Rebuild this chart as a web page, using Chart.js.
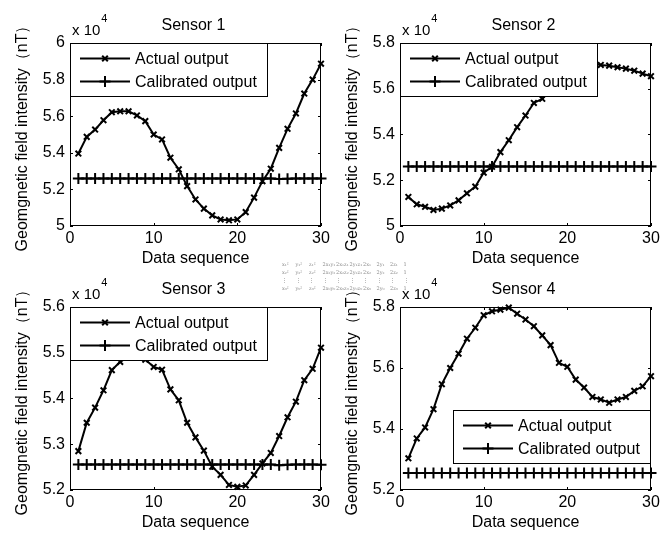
<!DOCTYPE html>
<html>
<head>
<meta charset="utf-8">
<script src="https://cdn.jsdelivr.net/npm/chart.js@4.4.0/dist/chart.umd.min.js"></script>
<style>
  body { margin: 0; background: #fff; }
  #wrap { position: relative; width: 671px; height: 534px; overflow: hidden; background: #fff; }
  #wrap canvas { position: absolute; }
  .matrix { position: absolute; left: 282px; top: 260px; font: 5px "DejaVu Serif", serif; color: #8a8a8a; line-height: 8px; }
  .matrix div { white-space: nowrap; }
  .matrix span { display: inline-block; width: 13.5px; }
</style>
</head>
<body>
<div id="wrap">
  <canvas id="sensor1" width="335" height="270" style="left:0;top:0"></canvas>
  <canvas id="sensor2" width="335" height="270" style="left:330px;top:0"></canvas>
  <canvas id="sensor3" width="335" height="270" style="left:0;top:264px"></canvas>
  <canvas id="sensor4" width="335" height="270" style="left:330px;top:264px"></canvas>
  <div class="matrix">
    <div><span>x₁²</span><span>y₁²</span><span>z₁²</span><span>2x₁y₁</span><span>2x₁z₁</span><span>2y₁z₁</span><span>2x₁</span><span>2y₁</span><span>2z₁</span><span>1</span></div>
    <div><span>x₂²</span><span>y₂²</span><span>z₂²</span><span>2x₂y₂</span><span>2x₂z₂</span><span>2y₂z₂</span><span>2x₂</span><span>2y₂</span><span>2z₂</span><span>1</span></div>
    <div><span>⋮</span><span>⋮</span><span>⋮</span><span>⋮</span><span>⋮</span><span>⋮</span><span>⋮</span><span>⋮</span><span>⋮</span><span>⋮</span></div>
    <div><span>x₉²</span><span>y₉²</span><span>z₉²</span><span>2x₉y₉</span><span>2x₉z₉</span><span>2y₉z₉</span><span>2x₉</span><span>2y₉</span><span>2z₉</span><span>1</span></div>
  </div>
</div>
<script>
// Data (field intensity in units of 10^4 nT)
const dataSequence = [1, 2, 3, 4, 5, 6, 7, 8, 9, 10, 11, 12, 13, 14, 15, 16, 17, 18, 19, 20, 21, 22, 23, 24, 25, 26, 27, 28, 29, 30];
const xTicks = [0, 10, 20, 30];

const sensor1Actual = [5.396, 5.487, 5.527, 5.578, 5.622, 5.627, 5.627, 5.604, 5.573, 5.500, 5.473, 5.373, 5.310, 5.218, 5.145, 5.095, 5.058, 5.036, 5.031, 5.036, 5.076, 5.155, 5.245, 5.313, 5.427, 5.531, 5.615, 5.724, 5.800, 5.887];
const sensor1Calibrated = [5.26, 5.26, 5.26, 5.26, 5.26, 5.26, 5.26, 5.26, 5.26, 5.26, 5.26, 5.26, 5.26, 5.26, 5.26, 5.26, 5.26, 5.26, 5.26, 5.26, 5.26, 5.26, 5.26, 5.26, 5.257, 5.258, 5.26, 5.26, 5.26, 5.26];
const sensor1YTicks = [5, 5.2, 5.4, 5.6, 5.8, 6];

const sensor2Actual = [5.127, 5.095, 5.084, 5.070, 5.076, 5.090, 5.112, 5.143, 5.172, 5.233, 5.259, 5.323, 5.375, 5.432, 5.483, 5.538, 5.556, 5.596, 5.633, 5.662, 5.684, 5.698, 5.710, 5.704, 5.701, 5.694, 5.688, 5.679, 5.666, 5.655];
const sensor2Calibrated = [5.26, 5.26, 5.26, 5.26, 5.26, 5.26, 5.26, 5.26, 5.26, 5.26, 5.26, 5.26, 5.26, 5.26, 5.26, 5.26, 5.26, 5.26, 5.26, 5.26, 5.26, 5.26, 5.26, 5.26, 5.26, 5.26, 5.26, 5.26, 5.26, 5.26];
const sensor2YTicks = [5, 5.2, 5.4, 5.6, 5.8];

const sensor3Actual = [5.285, 5.347, 5.380, 5.418, 5.462, 5.480, 5.492, 5.498, 5.485, 5.469, 5.463, 5.420, 5.396, 5.347, 5.315, 5.286, 5.251, 5.233, 5.211, 5.207, 5.210, 5.233, 5.258, 5.281, 5.318, 5.359, 5.393, 5.440, 5.465, 5.511];
const sensor3Calibrated = [5.256, 5.256, 5.256, 5.256, 5.256, 5.256, 5.256, 5.256, 5.256, 5.256, 5.256, 5.256, 5.256, 5.256, 5.256, 5.256, 5.256, 5.256, 5.256, 5.256, 5.256, 5.256, 5.256, 5.256, 5.254, 5.255, 5.256, 5.256, 5.256, 5.255];
const sensor3YTicks = [5.2, 5.3, 5.4, 5.5, 5.6];

const sensor4Actual = [5.304, 5.369, 5.405, 5.465, 5.547, 5.600, 5.647, 5.696, 5.732, 5.773, 5.786, 5.791, 5.798, 5.778, 5.759, 5.737, 5.707, 5.675, 5.617, 5.604, 5.562, 5.536, 5.505, 5.497, 5.486, 5.497, 5.505, 5.525, 5.540, 5.573];
const sensor4Calibrated = [5.256, 5.256, 5.256, 5.256, 5.256, 5.256, 5.256, 5.256, 5.256, 5.256, 5.256, 5.256, 5.256, 5.256, 5.256, 5.256, 5.256, 5.256, 5.256, 5.256, 5.256, 5.256, 5.256, 5.256, 5.256, 5.256, 5.256, 5.256, 5.256, 5.256];
const sensor4YTicks = [5.2, 5.4, 5.6, 5.8];

const seriesNames = ['Actual output', 'Calibrated output'];

const FONT = '"Liberation Sans", Arial, sans-serif';

// MATLAB style box, inward ticks, title, exponent and legend
const matlabAxes = {
    id: 'matlabAxes',
    afterDatasetsDraw(chart, args, opts) {
        const ctx = chart.ctx;
        const a = chart.chartArea;
        const xs = chart.scales.x, ys = chart.scales.y;
        ctx.save();
        ctx.strokeStyle = '#000';
        ctx.fillStyle = '#000';
        ctx.lineWidth = 1;

        ctx.beginPath();
        xs.ticks.forEach(t => {
            const px = Math.round(xs.getPixelForValue(t.value)) + 0.5;
            ctx.moveTo(px, a.bottom); ctx.lineTo(px, a.bottom - 3);
            ctx.moveTo(px, a.top); ctx.lineTo(px, a.top + 3);
        });
        ys.ticks.forEach(t => {
            const py = Math.round(ys.getPixelForValue(t.value)) + 0.5;
            ctx.moveTo(a.left, py); ctx.lineTo(a.left + 3, py);
            ctx.moveTo(a.right, py); ctx.lineTo(a.right - 3, py);
        });
        ctx.stroke();
        ctx.strokeRect(a.left + 0.5, a.top + 0.5, a.width - 1, a.height - 1);

        // title
        ctx.font = '16px ' + FONT;
        ctx.textAlign = 'center';
        ctx.textBaseline = 'alphabetic';
        ctx.fillText(opts.title, (a.left + a.right) / 2 - 2, 30);

        // x 10^4
        ctx.textAlign = 'left';
        ctx.font = '15px ' + FONT;
        ctx.fillText('x 10', a.left + 2, 35);
        const w = ctx.measureText('x 10').width;
        ctx.font = '11px ' + FONT;
        ctx.fillText('4', a.left + 3 + w, 22);

        // legend box
        const lw = 197, lh = 53;
        const lx = opts.legend === 'se' ? a.right - lw - 1 : a.left;
        const ly = opts.legend === 'se' ? a.bottom - lh - 27 : a.top;
        ctx.fillStyle = '#fff';
        ctx.fillRect(lx, ly, lw, lh);
        ctx.strokeRect(lx + 0.5, ly + 0.5, lw, lh);
        chart.data.datasets.forEach((ds, i) => {
            const ry = ly + (i === 0 ? 15.5 : 38.5);
            ctx.strokeStyle = '#000';
            ctx.lineWidth = 2;
            ctx.beginPath();
            ctx.moveTo(lx + 10, ry);
            ctx.lineTo(lx + 60, ry);
            ctx.stroke();
            ctx.lineWidth = ds.pointBorderWidth;
            Chart.helpers.drawPoint(ctx, {
                pointStyle: ds.pointStyle,
                radius: ds.pointRadius,
                borderWidth: ds.pointBorderWidth,
                rotation: 0
            }, lx + 35, ry);
            ctx.fillStyle = '#000';
            ctx.font = '16px ' + FONT;
            ctx.textBaseline = 'middle';
            ctx.fillText(ds.label, lx + 65, ry + 1);
        });
        ctx.restore();
    }
};

function fmt(v) {
    return String(Number(v.toFixed(2)));
}

function makePanel(id, title, actual, calibrated, yTicks, legendCorner) {
    const ctx = document.getElementById(id).getContext('2d');
    new Chart(ctx, {
        type: 'line',
        data: {
            datasets: [{
                label: seriesNames[0],
                data: dataSequence.map((x, i) => ({ x: x, y: actual[i] })),
                borderColor: '#000',
                backgroundColor: '#000',
                borderWidth: 2,
                pointStyle: 'crossRot',
                pointRadius: 4,
                pointBorderWidth: 2,
                tension: 0,
                clip: false
            }, {
                label: seriesNames[1],
                data: dataSequence.map((x, i) => ({ x: x, y: calibrated[i] })),
                borderColor: '#000',
                backgroundColor: '#000',
                borderWidth: 2,
                pointStyle: 'cross',
                pointRadius: 5.5,
                pointBorderWidth: 2,
                tension: 0,
                clip: false
            }]
        },
        options: {
            responsive: false,
            animation: false,
            devicePixelRatio: 1,
            layout: { padding: { top: 43, right: 14, left: 0, bottom: 0 } },
            plugins: {
                legend: { display: false },
                tooltip: { enabled: false },
                matlabAxes: { title: title, legend: legendCorner }
            },
            scales: {
                x: {
                    type: 'linear',
                    min: 0,
                    max: 30,
                    grid: { display: false, drawTicks: false },
                    border: { display: false },
                    afterBuildTicks: s => { s.ticks = xTicks.map(v => ({ value: v })); },
                    afterFit: s => { s.height = 44; s.paddingLeft = 0; s.paddingRight = 0; },
                    ticks: { color: '#000', font: { family: FONT, size: 16 }, padding: 3, maxRotation: 0, callback: v => fmt(v) },
                    title: { display: true, text: 'Data sequence', color: '#000', font: { family: FONT, size: 16 }, padding: { top: 0, bottom: 1.4 } }
                },
                y: {
                    type: 'linear',
                    min: yTicks[0],
                    max: yTicks[yTicks.length - 1],
                    grid: { display: false, drawTicks: false },
                    border: { display: false },
                    afterBuildTicks: s => { s.ticks = yTicks.map(v => ({ value: v })); },
                    afterFit: s => { s.width = 70; s.paddingTop = 0; s.paddingBottom = 0; },
                    ticks: { color: '#000', font: { family: FONT, size: 16 }, padding: 5, callback: v => fmt(v) },
                    title: { display: true, text: 'Geomgnetic field intensity（nT）', color: '#000', font: { family: FONT, size: 16 }, padding: { top: 13, bottom: 0 } }
                }
            }
        },
        plugins: [matlabAxes]
    });
}

makePanel('sensor1', 'Sensor 1', sensor1Actual, sensor1Calibrated, sensor1YTicks, 'nw');
makePanel('sensor2', 'Sensor 2', sensor2Actual, sensor2Calibrated, sensor2YTicks, 'nw');
makePanel('sensor3', 'Sensor 3', sensor3Actual, sensor3Calibrated, sensor3YTicks, 'nw');
makePanel('sensor4', 'Sensor 4', sensor4Actual, sensor4Calibrated, sensor4YTicks, 'se');
</script>
</body>
</html>
